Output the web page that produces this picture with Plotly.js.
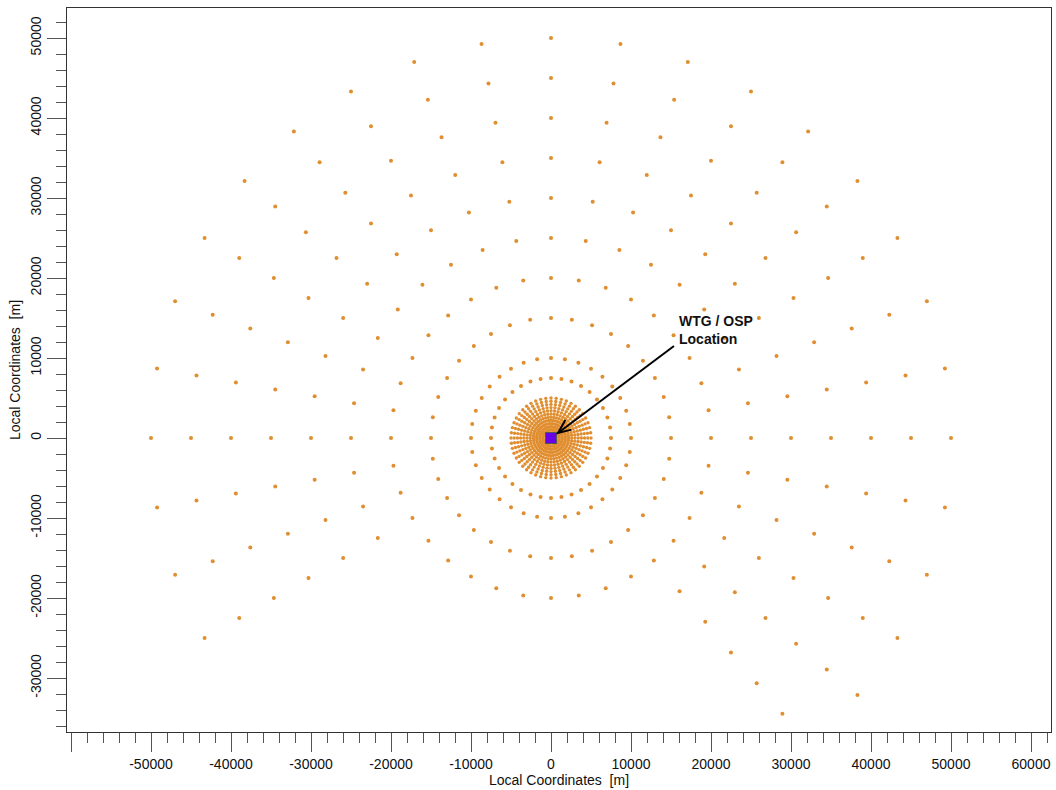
<!DOCTYPE html>
<html>
<head>
<meta charset="utf-8">
<script src="https://cdn.plot.ly/plotly-3.0.1.min.js"></script>
<style>
  html, body { margin: 0; padding: 0; background: #ffffff; }
  #chart { width: 1056px; height: 790px; }
</style>
</head>
<body>
<div id="chart"></div>
<script>
// Receptor grid around the WTG / OSP location.
// Ring radii in metres, bearings in degrees counter-clockwise from +x (east).
const innerRadii = [1000, 1400, 1800, 2200, 2600, 3000, 3400, 3800, 4200, 4600, 5000];
const innerBearings = [0, 7.5, 15, 22.5, 30, 37.5, 45, 52.5, 60, 67.5, 75, 82.5,
  90, 97.5, 105, 112.5, 120, 127.5, 135, 142.5, 150, 157.5, 165, 172.5,
  180, 187.5, 195, 202.5, 210, 217.5, 225, 232.5, 240, 247.5, 255, 262.5,
  270, 277.5, 285, 292.5, 300, 307.5, 315, 322.5, 330, 337.5, 345, 352.5];

const midRadii = [7500, 10000, 15000, 20000];
const midBearings = [0, 10, 20, 30, 40, 50, 60, 70, 80, 90, 100, 110, 120, 130, 140, 150, 160, 170,
  180, 190, 200, 210, 220, 230, 240, 250, 260, 270, 280, 290, 300, 310, 320, 330, 340, 350];

const outerRadii = [25000, 30000, 35000, 40000, 45000, 50000];
const outerBearings = [-50, -40, -30, -20, -10, 0, 10, 20, 30, 40, 50, 60, 70, 80, 90,
  100, 110, 120, 130, 140, 150, 160, 170, 180, 190, 200, 210];

const sourceX = [0];
const sourceY = [0];

const xTickVals = [-60000, -50000, -40000, -30000, -20000, -10000, 0, 10000, 20000, 30000, 40000, 50000, 60000];
const xTickText = ['', '-50000', '-40000', '-30000', '-20000', '-10000', '0', '10000', '20000', '30000', '40000', '50000', '60000'];
const yTickVals = [-30000, -20000, -10000, 0, 10000, 20000, 30000, 40000, 50000];
const yTickText = ['-30000', '-20000', '-10000', '0', '10000', '20000', '30000', '40000', '50000'];

// Polar ring/bearing grid -> local x/y coordinates
function gridPoints(radii, bearings) {
  const xs = [], ys = [];
  radii.forEach(function (r) {
    bearings.forEach(function (b) {
      const a = b * Math.PI / 180;
      xs.push(r * Math.cos(a));
      ys.push(r * Math.sin(a));
    });
  });
  return { x: xs, y: ys };
}

const inner = gridPoints(innerRadii, innerBearings);
const mid = gridPoints(midRadii, midBearings);
const outer = gridPoints(outerRadii, outerBearings);

const dotColor = '#E08E30';
const dotMarker = { color: dotColor, size: 4, line: { width: 0 } };
const innerMarker = { color: dotColor, size: 3.4, line: { width: 0 } };

const traces = [
  { type: 'scatter', mode: 'markers', x: outer.x, y: outer.y, marker: dotMarker, hoverinfo: 'x+y' },
  { type: 'scatter', mode: 'markers', x: mid.x, y: mid.y, marker: dotMarker, hoverinfo: 'x+y' },
  { type: 'scatter', mode: 'markers', x: inner.x, y: inner.y, marker: innerMarker, hoverinfo: 'x+y' },
  { type: 'scatter', mode: 'markers', x: sourceX, y: sourceY,
    marker: { symbol: 'square', size: 11, color: '#6A00E8', line: { color: '#555555', width: 1 } },
    hoverinfo: 'x+y' }
];

const axisFont = { family: 'Liberation Sans, Arial, sans-serif', size: 14, color: '#111111' };

const layout = {
  width: 1056,
  height: 790,
  margin: { l: 67, r: 5, t: 8, b: 58 },
  paper_bgcolor: '#ffffff',
  plot_bgcolor: '#ffffff',
  showlegend: false,
  font: axisFont,
  xaxis: {
    range: [-60500, 62500],
    tickmode: 'array',
    tickvals: xTickVals,
    ticktext: xTickText,
    ticks: 'outside',
    ticklen: 19,
    tickwidth: 1,
    tickcolor: '#555555',
    minor: { tickmode: 'linear', tick0: 0, dtick: 2000, ticks: 'outside', ticklen: 10, tickcolor: '#555555', showgrid: false },
    showgrid: false,
    zeroline: false,
    showline: true,
    linecolor: '#333333',
    linewidth: 1,
    mirror: true,
    tickfont: axisFont,
    title: { text: 'Local Coordinates\u00a0 [m]', font: axisFont, standoff: 3 }
  },
  yaxis: {
    range: [-36750, 53750],
    tickmode: 'array',
    tickvals: yTickVals,
    ticktext: yTickText,
    tickangle: -90,
    ticks: 'outside',
    ticklen: 19,
    tickwidth: 1,
    tickcolor: '#555555',
    minor: { tickmode: 'linear', tick0: 0, dtick: 2000, ticks: 'outside', ticklen: 10, tickcolor: '#555555', showgrid: false },
    showgrid: false,
    zeroline: false,
    showline: true,
    linecolor: '#333333',
    linewidth: 1,
    mirror: true,
    tickfont: axisFont,
    title: { text: 'Local Coordinates\u00a0 [m]', font: axisFont, standoff: 4 }
  },
  shapes: [
    // arrow shaft and open head pointing at the source
    { type: 'path', xref: 'x', yref: 'y',
      path: 'M 15375 11500 L 875 625',
      line: { color: '#000000', width: 2 } },
    { type: 'path', xref: 'x', yref: 'y',
      path: 'M 1800 2250 L 875 625 L 2550 1050',
      line: { color: '#000000', width: 2 } }
  ],
  annotations: [
    { x: 15800, y: 13500, xref: 'x', yref: 'y', xanchor: 'left', yanchor: 'middle', align: 'left',
      showarrow: false,
      text: '<b>WTG / OSP<br>Location</b>',
      font: { family: 'Liberation Sans, Arial, sans-serif', size: 14, color: '#111111' } }
  ]
};

Plotly.newPlot('chart', traces, layout, { displayModeBar: false, staticPlot: true });
</script>
</body>
</html>
